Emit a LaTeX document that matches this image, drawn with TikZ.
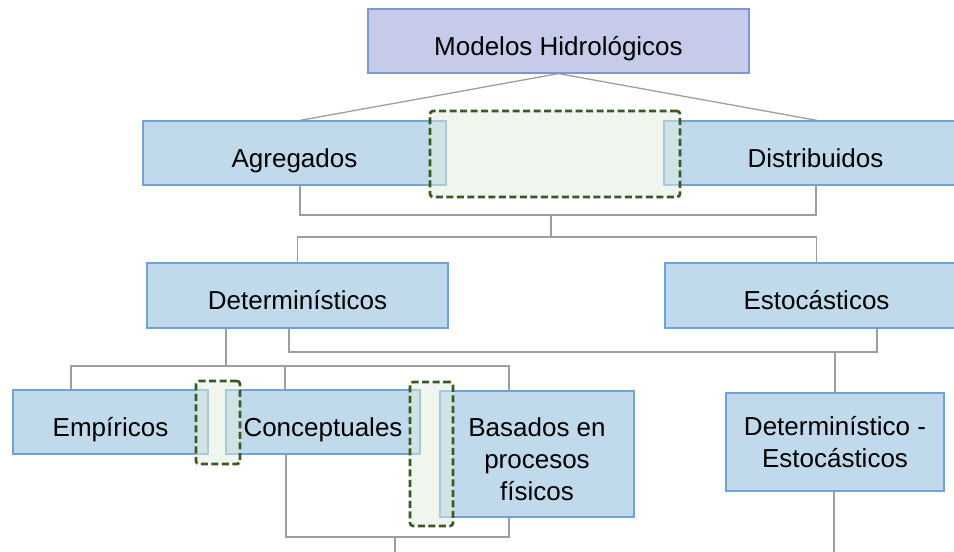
\documentclass[tikz,border=0pt]{standalone}
\usepackage{fontspec}
\setmainfont{Liberation Sans}
\usetikzlibrary{backgrounds}
\definecolor{topfill}{RGB}{197,203,233}
\definecolor{topline}{RGB}{125,150,212}
\definecolor{bluefill}{RGB}{193,218,235}
\definecolor{blueline}{RGB}{112,162,216}
\definecolor{conn}{RGB}{158,158,158}
\definecolor{dgreen}{RGB}{58,88,36}
\definecolor{gfill}{RGB}{226,238,222}
\tikzset{
  boxbase/.style={draw=blueline, fill=bluefill, line width=1.2pt, inner sep=0pt, align=center,
    font=\fontsize{26}{32}\selectfont},
  box/.style={boxbase, text height=28pt, text depth=0pt},
  topbox/.style={box, draw=topline, fill=topfill},
  conline/.style={draw=conn, line width=1.3pt},
  hilite/.style={draw=dgreen, fill=gfill, fill opacity=0.5, line width=2.6pt,
    dash pattern=on 7pt off 3.5pt, rounded corners=3pt}
}
\begin{document}
\begin{tikzpicture}[x=1pt,y=-1pt]
\useasboundingbox (0,0) rectangle (954,552);
\clip (0,0) rectangle (954,552);
% nodes
\node[topbox, minimum width=381pt, minimum height=64pt] (top) at (558.5,41) {Modelos Hidrológicos};
\node[box, minimum width=303pt, minimum height=64pt] (agr) at (294.5,153) {Agregados};
\node[box, minimum width=303pt, minimum height=64pt] (dis) at (815.5,153) {Distribuidos};
\node[box, minimum width=301pt, minimum height=65pt] (det) at (297.5,295.5) {Determinísticos};
\node[box, minimum width=303pt, minimum height=65pt] (est) at (816.5,295.5) {Estocásticos};
\node[box, minimum width=195pt, minimum height=64pt] (emp) at (110.5,422) {Empíricos};
\node[box, minimum width=194pt, minimum height=64pt] (con) at (323,422) {Conceptuales};
\node[boxbase, minimum width=194pt, minimum height=126pt,
  label={[font=\fontsize{26}{32}\selectfont, align=center, inner sep=0pt, yshift=-5pt]center:Basados en\\procesos\\físicos}] (bas) at (537,454) {};
\node[boxbase, minimum width=218pt, minimum height=98pt] (des) at (835,442) {Determinístico -\\Estocásticos};
% connectors
\coordinate (j1) at (551,215);
\coordinate (j2) at (551,237);
\coordinate (j3) at (226,366);
\coordinate (j4) at (835,352);
\coordinate (j5) at (395,537);
\coordinate (e1) at (395,552);
\coordinate (e2) at (834,552);
\begin{scope}[on background layer]
\draw[conline] (top.south) -- ([xshift=5.5pt]agr.north);
\draw[conline] (top.south) -- ([xshift=1.5pt]dis.north);
\draw[conline] ([xshift=5.5pt]agr.south) |- (j1) -| ([xshift=0.5pt]dis.south);
\draw[conline] (j1) -- (j2);
\draw[conline] (det.north) |- (j2) -| (est.north);
\draw[conline] ([xshift=-71.5pt]det.south) -- (j3);
\draw[conline] ([xshift=-39.5pt]emp.north) |- (j3) -| ([xshift=-28pt]bas.north);
\draw[conline] ([xshift=-38pt]con.north) -- ([xshift=-38pt]con.north |- j3);
\draw[conline] ([xshift=-8.5pt]det.south) |- (j4) -| ([xshift=60.5pt]est.south);
\draw[conline] (j4) -- (des.north);
\draw[conline] ([xshift=-37pt]con.south) |- (j5) -| ([xshift=-28pt]bas.south);
\draw[conline] (j5) -- (e1);
\draw[conline] ([xshift=-1pt]des.south) -- (e2);
\end{scope}
% highlight boxes
\node[hilite, minimum width=250pt, minimum height=86pt] (h1) at (555,154) {};
\node[hilite, minimum width=44pt, minimum height=83pt] (h2) at (218,422.5) {};
\node[hilite, minimum width=43pt, minimum height=144pt] (h3) at (431.5,454) {};
\end{tikzpicture}
\end{document}
